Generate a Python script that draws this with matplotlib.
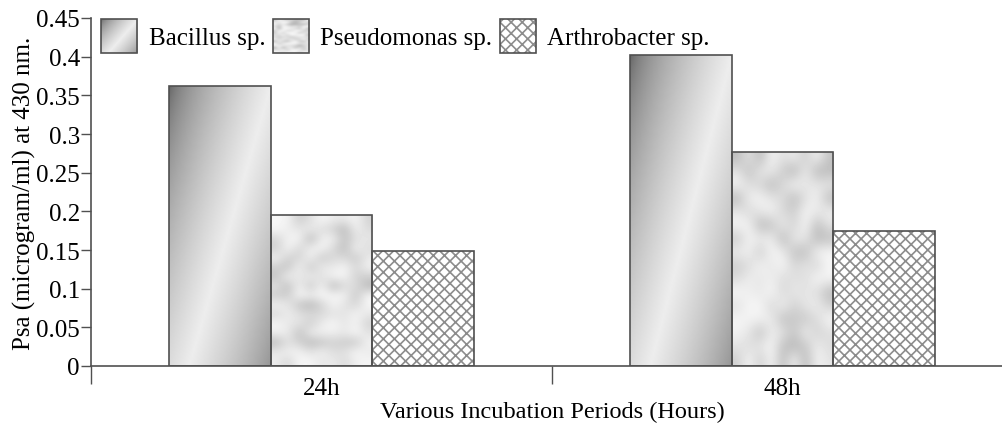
import numpy as np
import matplotlib
matplotlib.use("Agg")
import matplotlib.pyplot as plt
from matplotlib.patches import Rectangle
from matplotlib.legend_handler import HandlerBase
from matplotlib.image import BboxImage
from matplotlib.transforms import Bbox, TransformedBbox

plt.rcParams['font.family'] = ['Liberation Serif', 'DejaVu Serif']
plt.rcParams['hatch.linewidth'] = 1.2
plt.rcParams['hatch.color'] = '#8c8c8c'

periods = ['24h', '48h']
series = ['Bacillus sp.', 'Pseudomonas sp.', 'Arthrobacter sp.']
bacillus = [0.362, 0.402]
pseudomonas = [0.195, 0.277]
arthrobacter = [0.149, 0.175]
values = [bacillus, pseudomonas, arthrobacter]
yticks = [0, 0.05, 0.1, 0.15, 0.2, 0.25, 0.3, 0.35, 0.4, 0.45]
ytick_labels = ['0', '0.05', '0.1', '0.15', '0.2', '0.25', '0.3', '0.35', '0.4', '0.45']

edge = '#505050'
fs = 18
hatch = 'xxx'


# metallic diagonal gradient (dark corners, light diagonal band)
def metal_tex(n=120):
    u = np.linspace(0, 1, n)
    X, D = np.meshgrid(u, u)
    s = X + 0.8 * D
    g = 1 - np.abs(s - 1.0) / 1.0
    g = np.clip(g, 0, 1) ** 0.6
    return 0.38 + 0.55 * g


# soft marble-like texture (decoration only)
def marble_tex(seed):
    rng = np.random.default_rng(seed)
    a = rng.random((16, 9)) ** 2
    return 0.97 - 0.27 * a


def textured_bar(ax, x, w, h, kind, seed=0):
    r = Rectangle((x - w / 2, 0), w, h, facecolor='none', edgecolor=edge, lw=1.2, zorder=3)
    ax.add_patch(r)
    if kind == 'metal':
        im = ax.imshow(metal_tex(), cmap='gray', vmin=0, vmax=1, aspect='auto',
                       extent=(x - w / 2, x + w / 2, 0, h), origin='upper',
                       interpolation='bilinear', zorder=2)
        im.set_clip_path(r)
    elif kind == 'marble':
        im = ax.imshow(marble_tex(seed), cmap='gray', vmin=0, vmax=1, aspect='auto',
                       extent=(x - w / 2, x + w / 2, 0, h), origin='upper',
                       interpolation='bicubic', zorder=2)
        im.set_clip_path(r)
    else:
        ax.add_patch(Rectangle((x - w / 2, 0), w, h, facecolor='white',
                               lw=0, hatch=hatch, zorder=2))


class ImgHandler(HandlerBase):
    def __init__(self, arr, interp):
        super().__init__()
        self.arr = arr
        self.interp = interp

    def create_artists(self, legend, orig_handle, xdescent, ydescent, width, height, fontsize, trans):
        bb = Bbox.from_bounds(-xdescent, -ydescent, width, height)
        img = BboxImage(TransformedBbox(bb, trans), cmap='gray', norm=plt.Normalize(0, 1),
                        interpolation=self.interp)
        img.set_data(self.arr)
        frame = Rectangle((-xdescent, -ydescent), width, height, facecolor='none',
                          edgecolor=edge, lw=1.2, transform=trans)
        return [img, frame]


class HatchHandler(HandlerBase):
    def create_artists(self, legend, orig_handle, xdescent, ydescent, width, height, fontsize, trans):
        fill = Rectangle((-xdescent, -ydescent), width, height, facecolor='white',
                         lw=0, hatch=hatch, transform=trans)
        frame = Rectangle((-xdescent, -ydescent), width, height, facecolor='none',
                          edgecolor=edge, lw=1.2, transform=trans)
        return [fill, frame]


fig = plt.figure(figsize=(10.02, 4.39), dpi=100)
ax = fig.add_axes([91 / 1002, 72 / 439, 922 / 1002, 348 / 439])

w = 0.221
x = np.arange(len(periods))
kinds = ['metal', 'marble', 'hatch']
for i, vals in enumerate(values):
    for j, v in enumerate(vals):
        textured_bar(ax, x[j] + (i - 1) * w, w, v, kinds[i], seed=3 + j)

ax.set_xlim(-0.5, 1.5)
ax.set_ylim(0, 0.45)
ax.set_yticks(yticks)
ax.set_yticklabels(ytick_labels, fontsize=fs)
ax.set_xticks(x)
ax.set_xticklabels(periods, fontsize=fs)
ax.set_xticks([-0.5, 0.5, 1.5], minor=True)
ax.tick_params(axis='x', which='major', length=0, pad=8)
ax.tick_params(axis='x', which='minor', length=13, width=1, color=edge)
ax.tick_params(axis='y', length=7, width=1, color=edge, pad=1)
for s in ['top', 'right']:
    ax.spines[s].set_visible(False)
for s in ['left', 'bottom']:
    ax.spines[s].set_color(edge)
    ax.spines[s].set_linewidth(1.2)

ax.set_ylabel('Psa (microgram/ml) at 430 nm.', fontsize=fs, labelpad=0)
ax.set_xlabel('Various Incubation Periods (Hours)', fontsize=17.5, labelpad=1)

h1 = Rectangle((0, 0), 1, 1)
h2 = Rectangle((0, 1), 1, 1)
h3 = Rectangle((1, 0), 1, 1)
leg = ax.legend([h1, h2, h3], series, loc='upper left', ncol=3, frameon=False,
                fontsize=fs, handlelength=1.45, handleheight=1.7, columnspacing=0.3,
                handletextpad=0.45, bbox_to_anchor=(-0.008, 1.047), borderaxespad=0.3,
                handler_map={h1: ImgHandler(metal_tex(), 'bilinear'),
                             h2: ImgHandler(marble_tex(9), 'bicubic'),
                             h3: HatchHandler()})

fig.savefig('out.png', dpi=100)
